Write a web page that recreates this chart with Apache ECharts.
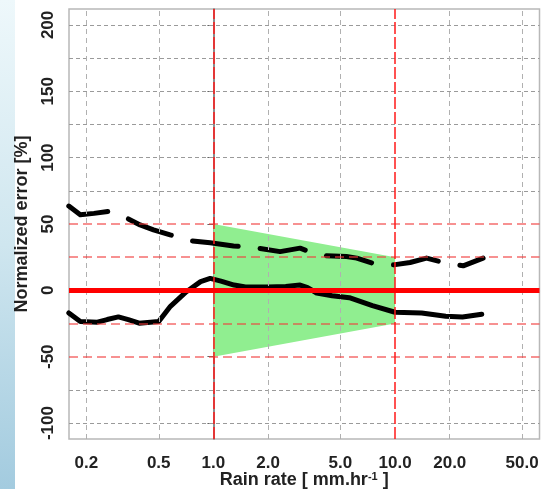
<!DOCTYPE html>
<html><head><meta charset="utf-8">
<script src="https://cdn.jsdelivr.net/npm/echarts@6/dist/echarts.min.js"></script>
<style>html,body{margin:0;padding:0;background:#fff}#c{width:541px;height:489px}</style>
</head><body><div id="c"></div>
<script>
// ---- data ----
const xTickValues = [0.2, 0.5, 1, 2, 5, 10, 20, 50];
const xTickLabels = ['0.2', '0.5', '1.0', '2.0', '5.0', '10.0', '20.0', '50.0'];
const yTickValues = [-100, -50, 0, 50, 100, 150, 200];
const yTickLabels = ['-100', '-50', '0', '50', '100', '150', '200'];
const yGridGray = [-100, -75, 75, 100, 125, 150, 175, 200];
const yGridRed = [-50, -25, 25, 50];
const xGridRed = [1, 10];
const xGridGray = [0.2, 0.5, 2, 5, 20, 50];

const rainRateSolid = [0.16, 0.185, 0.23, 0.26, 0.30, 0.34, 0.39, 0.45, 0.50, 0.58, 0.71, 0.85, 0.96, 1.1, 1.3, 1.5, 2.0, 2.5, 3.0, 3.3, 3.7, 4.5, 5.6, 7.5, 10, 14, 19, 23.5, 30];
const errorSolid    = [-17, -23.5, -24, -22, -20, -22, -24.7, -24, -23.5, -12, -1, 6.6, 9, 7, 4, 2.5, 2.5, 3, 4, 2, -2, -4, -5.5, -11.5, -16.5, -17, -19.5, -20, -18];

const rainRateDashed = [0.16, 0.185, 0.22, 0.264, 0.334, 0.395, 0.468, 0.578, 0.76, 0.96, 1.29, 1.77, 2.33, 3.0, 3.33, 4.2, 5.4, 6.15, 7.6, 9.8, 12.1, 14.9, 18.4, 23.7, 30.5];
const errorDashed    = [63.5, 57, 58, 59.4, 54.4, 49.3, 45.6, 41.8, 37.3, 35.8, 33.5, 31.8, 29.2, 31.8, 29.5, 26, 25.5, 24.3, 20.3, 19.2, 21, 24.3, 21, 18.5, 24.3];

const bandRainRate = [1, 10];
const bandUpper = [50, 25];
const bandLower = [-50, -25];

// ---- build ----
const L = Math.log10;
const lo = L(0.2), hi = L(50), pad = 0.04 * (hi - lo);
const xMin = lo - pad, xMax = hi + pad;
const yMin = -112, yMax = 212;
function nearestLabel(vals, labels, v, tr) {
  let bi = 0, bd = Infinity;
  vals.forEach((t, i) => { const d = Math.abs(tr(t) - v); if (d < bd) { bd = d; bi = i; } });
  return labels[bi];
}
const bandData = bandRainRate.map((r, i) => [L(r), bandUpper[i], bandLower[i]]);

const gridLines = [];
yGridGray.forEach(v => gridLines.push({ yAxis: v, lineStyle: { color: '#9a9a9a', width: 1, type: [4, 3] } }));
xGridGray.forEach(v => gridLines.push({ xAxis: L(v), lineStyle: { color: '#b0b0b0', width: 1, type: [5, 4] } }));
yGridRed.forEach(v => gridLines.push({ yAxis: v, lineStyle: { color: 'rgba(240,60,60,0.75)', width: 1.5, type: [9, 5] } }));
xGridRed.forEach(v => gridLines.push({ xAxis: L(v), lineStyle: { color: '#ff1a1a', width: 1.5, type: [12, 3] } }));
gridLines.push({ yAxis: 0, lineStyle: { color: '#ff0000', width: 5, type: 'solid' } });

const chart = echarts.init(document.getElementById('c'), null, { renderer: 'canvas' });
chart.setOption({
  animation: false,
  backgroundColor: '#ffffff',
  textStyle: { fontFamily: 'Liberation Sans, Arial, sans-serif' },
  graphic: [{
    type: 'rect', left: 0, top: 0, z: -10,
    shape: { x: 0, y: 0, width: 15, height: 489 },
    style: { fill: new echarts.graphic.LinearGradient(0, 0, 0, 1, [
      { offset: 0, color: '#eef8fb' }, { offset: 0.5, color: '#cfe6ef' }, { offset: 1, color: '#a3cbdf' }]) }
  }],
  grid: { left: 69, right: 1.5, top: 9, bottom: 50, containLabel: false, outerBoundsMode: 'none',
    show: true, borderColor: '#b8b8b8', borderWidth: 1.5 },
  xAxis: {
    type: 'value', min: xMin, max: xMax,
    name: 'Rain rate [ mm.hr{sup|-1} ]', nameLocation: 'middle', nameGap: 32, nameMoveOverlap: false,
    nameTextStyle: { fontSize: 18, fontWeight: 'bold', color: '#222', fontFamily: 'Liberation Sans',
      rich: { sup: { fontSize: 11, fontWeight: 'bold', verticalAlign: 'top', color: '#222', padding: [0, 0, 7, 0] } } },
    axisLine: { show: true, lineStyle: { color: '#d0d0d0', width: 1.5 } },
    axisTick: { show: false },
    splitLine: { show: false },
    axisLabel: {
      customValues: xTickValues.map(L), margin: 16,
      fontSize: 17, fontWeight: 'bold', color: '#222', fontFamily: 'Liberation Sans',
      formatter: v => nearestLabel(xTickValues, xTickLabels, v, L)
    }
  },
  yAxis: {
    type: 'value', min: yMin, max: yMax,
    name: 'Normalized error [%]', nameLocation: 'middle', nameGap: 38, nameRotate: 90, nameMoveOverlap: false,
    nameTextStyle: { fontSize: 18, fontWeight: 'bold', color: '#222', fontFamily: 'Liberation Sans' },
    axisLine: { show: true, lineStyle: { color: '#666', width: 1.5 } },
    axisTick: { show: true, customValues: yTickValues, length: 6, lineStyle: { color: '#666' } },
    splitLine: { show: false },
    axisLabel: {
      customValues: yTickValues, rotate: 90, margin: 12,
      fontSize: 17, fontWeight: 'bold', color: '#222', fontFamily: 'Liberation Sans',
      formatter: v => nearestLabel(yTickValues, yTickLabels, v, t => t)
    }
  },
  series: [
    {
      type: 'custom', z: 1, silent: true,
      data: bandData,
      renderItem: function (params, api) {
        if (params.dataIndex !== 0) return null;
        const pts = [];
        bandData.forEach(d => pts.push(api.coord([d[0], d[1]])));
        for (let i = bandData.length - 1; i >= 0; i--) pts.push(api.coord([bandData[i][0], bandData[i][2]]));
        return { type: 'polygon', shape: { points: pts }, style: { fill: '#90ee90' } };
      }
    },
    {
      type: 'line', z: 2, data: [], silent: true,
      markLine: { silent: true, symbol: 'none', label: { show: false }, animation: false, data: gridLines }
    },
    {
      type: 'line', z: 3, silent: true, symbol: 'none', clip: true,
      data: rainRateSolid.map((r, i) => [L(r), errorSolid[i]]),
      lineStyle: { color: '#000', width: 5, cap: 'round', join: 'round' }
    },
    {
      type: 'line', z: 3, silent: true, symbol: 'none', clip: true,
      data: rainRateDashed.map((r, i) => [L(r), errorDashed[i]]),
      lineStyle: { color: '#000', width: 5, cap: 'round', join: 'round', type: [46, 22], dashOffset: 4 }
    }
  ]
});
</script>
</body></html>
